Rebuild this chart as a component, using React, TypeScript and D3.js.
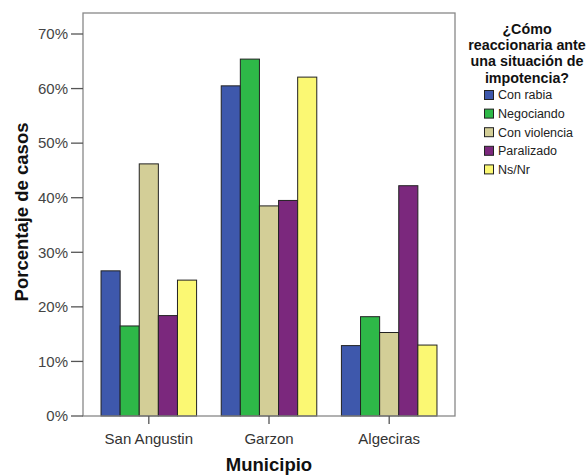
import React from "react";
import * as d3 from "d3";

const municipios = ["San Angustin", "Garzon", "Algeciras"];
const respuestas = ["Con rabia", "Negociando", "Con violencia", "Paralizado", "Ns/Nr"];
const colores = ["#3E58AC", "#2EB848", "#D3CE97", "#7B287D", "#FBF873"];
const conRabia = [26.6, 60.5, 12.9];
const negociando = [16.5, 65.4, 18.2];
const conViolencia = [46.2, 38.5, 15.3];
const paralizado = [18.4, 39.5, 42.2];
const nsNr = [24.9, 62.1, 13.0];
const series = [conRabia, negociando, conViolencia, paralizado, nsNr];
const yTicks = [0, 10, 20, 30, 40, 50, 60, 70];
const legendTitle = ["¿Cómo", "reaccionaria ante", "una situación de", "impotencia?"];

export default function App() {
  const W = 587, H = 475;
  const left = 83, right = 455, top = 13, bottom = 416;
  const y = d3.scaleLinear().domain([0, 70]).range([bottom, 34]);
  const x0 = d3.scaleBand().domain(municipios).range([left, right]).paddingInner(0.205).paddingOuter(0.15);
  const x1 = d3.scaleBand().domain(respuestas).range([0, x0.bandwidth()]);
  const font = "Arial, 'Liberation Sans', sans-serif";
  return (
    <svg width={W} height={H} style={{ position: "absolute", left: 0, top: 0 }} fontFamily={font}>
      <rect x={0} y={0} width={W} height={H} fill="#fff" />
      {municipios.map((m, i) => (
        <g key={m}>
          {series.map((s, j) => (
            <rect
              key={j}
              x={(x0(m) as number) + (x1(respuestas[j]) as number)}
              y={y(s[i])}
              width={x1.bandwidth()}
              height={bottom - y(s[i])}
              fill={colores[j]}
              stroke="#222"
              strokeWidth={1}
            />
          ))}
        </g>
      ))}
      <rect x={left} y={top} width={right - left} height={bottom - top} fill="none" stroke="#888" strokeWidth={1.3} />
      {yTicks.map((t) => (
        <g key={t}>
          <line x1={71} x2={left} y1={y(t)} y2={y(t)} stroke="#555" strokeWidth={1.3} />
          <text x={68} y={y(t)} dy="0.35em" textAnchor="end" fontSize={15} fill="#444">{t}%</text>
        </g>
      ))}
      {municipios.map((m) => {
        const cx = (x0(m) as number) + x0.bandwidth() / 2;
        return (
          <g key={m}>
            <line x1={cx} x2={cx} y1={bottom} y2={424} stroke="#555" strokeWidth={1.3} />
            <text x={cx} y={439} dy="0.35em" textAnchor="middle" fontSize={15} fill="#333">{m}</text>
          </g>
        );
      })}
      <text x={269} y={465} dy="0.35em" textAnchor="middle" fontSize={18.5} fontWeight="bold" fill="#111">Municipio</text>
      <text transform={`translate(22,212) rotate(-90)`} dy="0.35em" textAnchor="middle" fontSize={18.5} fontWeight="bold" fill="#111">Porcentaje de casos</text>
      {legendTitle.map((l, i) => (
        <text key={l} x={527} y={29 + i * 16.2} dy="0.35em" textAnchor="middle" fontSize={14.3} fontWeight="bold" fill="#111">{l}</text>
      ))}
      {respuestas.map((r, j) => (
        <g key={r}>
          <rect x={484.5} y={90.5 + j * 18.6} width={9} height={9} fill={colores[j]} stroke="#222" strokeWidth={1} />
          <text x={498} y={95 + j * 18.6} dy="0.35em" fontSize={12.5} fill="#222">{r}</text>
        </g>
      ))}
    </svg>
  );
}
